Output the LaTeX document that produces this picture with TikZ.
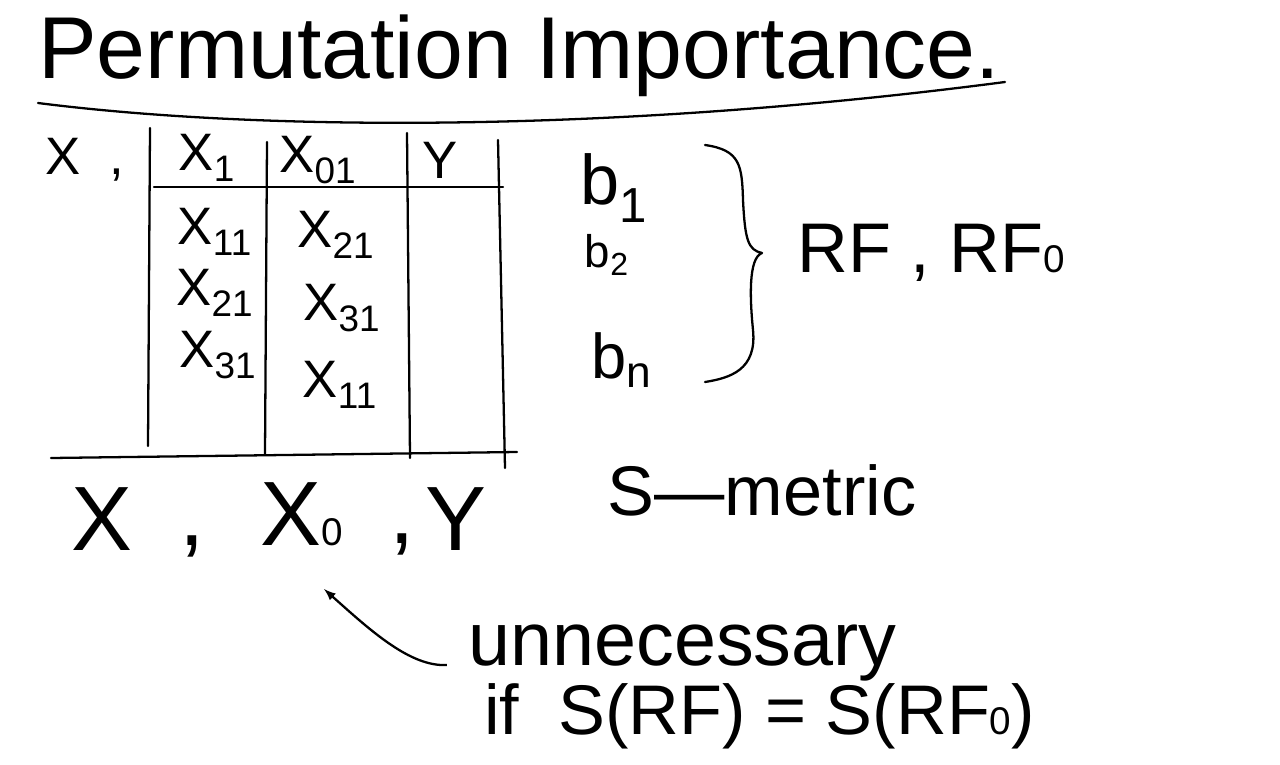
\documentclass[tikz,border=0pt]{standalone}
\usepackage{fontspec}
\setmainfont{Liberation Sans}
\usetikzlibrary{positioning}
\newcommand{\lowdigit}[1]{{\fontsize{22}{22}\selectfont #1}}

\begin{document}
\begin{tikzpicture}[x=0.02cm, y=-0.02cm]
      \tikzstyle{pen}=[line width=1.3pt, line cap=round, line join=round]
      \tikzstyle{big}=[inner sep=0pt, font=\fontsize{50}{52}\selectfont]
      \tikzstyle{huge}=[inner sep=0pt, font=\fontsize{52}{54}\selectfont]
      \tikzstyle{cell}=[inner sep=0pt, font=\fontsize{30}{32}\selectfont]
      \tikzstyle{mid}=[inner sep=0pt, font=\fontsize{40}{42}\selectfont]
      \tikzstyle{note}=[inner sep=0pt, font=\fontsize{40}{42}\selectfont]
      \tikzstyle{connect}=[-latex, line width=1.3pt]

      \useasboundingbox (0,0) rectangle (1280,764);

      \node[big, anchor=base west] (title) at (38,78) {Permutation Importance.};
      \draw[pen] (38,103) .. controls (250,130) and (600,135) .. (1005,82);

      \node[cell] (xrow) at (85,160) {X\ \ ,};
      \node[cell] (h1) at (207,158) {X\textsubscript{1}};
      \node[cell] (h2) at (318,160) {X\textsubscript{01}};
      \node[cell] (h3) at (440,160) {Y};

      \node[cell] (a11) at (215,232) {X\textsubscript{11}};
      \node[cell] (a21) at (215,293) {X\textsubscript{21}};
      \node[cell] (a31) at (218,355) {X\textsubscript{31}};
      \node[cell] (p21) at (336,235) {X\textsubscript{21}};
      \node[cell] (p31) at (342,308) {X\textsubscript{31}};
      \node[cell] (p11) at (340,385) {X\textsubscript{11}};

      \draw[pen] (150,128) -- (148,446);
      \draw[pen] (267,142) -- (265,454);
      \draw[pen] (407,133) -- (410,458);
      \draw[pen] (498,140) -- (505,468);
      \draw[pen] (154,187) -- (503,187);
      \draw[pen] (51,458) -- (517,452);

      \node[inner sep=0pt, font=\fontsize{40}{42}\selectfont] (b1) at (614,188) {b\textsubscript{1}};
      \node[inner sep=0pt, font=\fontsize{26}{28}\selectfont] (b2) at (607,255) {b\textsubscript{2}};
      \node[inner sep=0pt, font=\fontsize{36}{38}\selectfont] (bn) at (622,360) {b\textsubscript{n}};
      \draw[pen] (705,145) .. controls (740,150) and (742,165) .. (743,200)
            .. controls (745,240) and (748,250) .. (762,253)
            .. controls (748,258) and (750,300) .. (753,330)
            .. controls (757,370) and (730,378) .. (705,382);
      \node[mid, anchor=base west] (rf) at (797,272) {RF , RF\lowdigit{0}};

      \node[huge, anchor=base] (xall) at (102,550) {X};
      \node[huge, anchor=base] (comma1) at (192,545) {,};
      \node[huge, anchor=base] (xzero) at (302,545) {X\lowdigit{0}};
      \node[huge, anchor=base] (comma2) at (402,543) {,};
      \node[huge, anchor=base] (yall) at (456,550) {Y};

      \node[note, anchor=base] (metric) at (762,515) {S—metric};

      \node[note, anchor=base west, font=\fontsize{43}{45}\selectfont] (unnec) at (468,665) {unnecessary};
      \node[note, anchor=base west, font=\fontsize{40}{42}\selectfont] (cond) at (484,734) {if\ \ S(RF) = S(RF\lowdigit{0})};

      \coordinate (tip) at (324,589);
      \draw[connect] ([xshift=-12pt]unnec.base west) .. controls (410,667) and (370,630) .. (tip);
\end{tikzpicture}
\end{document}
